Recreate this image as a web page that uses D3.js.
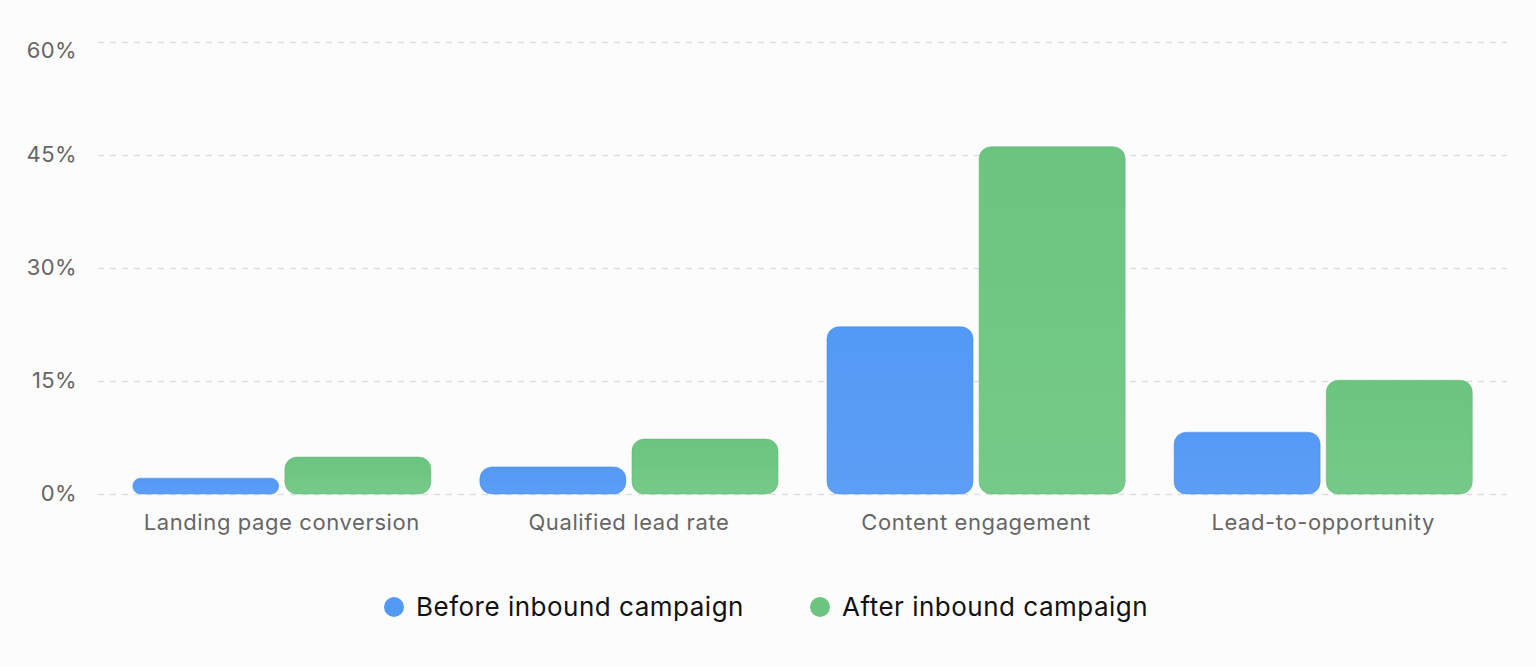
<!DOCTYPE html>
<html>
<head>
<meta charset="utf-8">
<script src="https://cdn.jsdelivr.net/npm/d3@7"></script>
<style>
  html, body { margin: 0; padding: 0; background: #fcfcfc; }
  svg { display: block; font-family: Inter, "Noto Sans", sans-serif; }
</style>
</head>
<body>
<div id="chart"></div>
<script>
// chart data
var categories = ['Landing page conversion', 'Qualified lead rate', 'Content engagement', 'Lead-to-opportunity'];
var seriesNames = ['Before inbound campaign', 'After inbound campaign'];
var beforeValues = [2.1, 3.6, 22.2, 8.2];
var afterValues = [4.9, 7.3, 46.1, 15.1];
var yTicks = [0, 15, 30, 45, 60];

var colors = {
  'Before inbound campaign': ['#5399f6', '#5d9ef6'],
  'After inbound campaign': ['#6bc47f', '#76ca89']
};

var width = 1536, height = 667;
var margin = {top: 42, right: 29, bottom: 173, left: 98};

var svg = d3.select('#chart')
  .append('svg')
  .attr('width', width)
  .attr('height', height);

// gradients, slightly darker at top
var defs = svg.append('defs');
seriesNames.forEach(function(name, i) {
  var g = defs.append('linearGradient')
    .attr('id', 'grad' + i)
    .attr('x1', 0).attr('y1', 0).attr('x2', 0).attr('y2', 1);
  g.append('stop').attr('offset', '0%').attr('stop-color', colors[name][0]);
  g.append('stop').attr('offset', '100%').attr('stop-color', colors[name][1]);
});

var x0 = d3.scaleBand()
  .domain(categories)
  .range([margin.left, width - margin.right])
  .paddingInner(0.141)
  .paddingOuter(0.1);

var x1 = d3.scaleBand()
  .domain(seriesNames)
  .range([0, x0.bandwidth()])
  .paddingInner(0.04);

var y = d3.scaleLinear()
  .domain([0, 60])
  .range([height - margin.bottom, margin.top]);

// grid
svg.append('g')
  .selectAll('line')
  .data(yTicks)
  .enter()
  .append('line')
  .attr('x1', margin.left)
  .attr('x2', width - margin.right)
  .attr('y1', function(d) { return y(d) + 0.5; })
  .attr('y2', function(d) { return y(d) + 0.5; })
  .attr('stroke', '#dedede')
  .attr('stroke-width', 1.5)
  .attr('stroke-dasharray', '6,6');

// y axis labels
var yAxis = d3.axisLeft(y)
  .tickValues(yTicks)
  .tickFormat(function(d) { return d + '%'; })
  .tickSize(0)
  .tickPadding(21);

svg.append('g')
  .attr('transform', 'translate(' + margin.left + ',0)')
  .call(yAxis)
  .call(function(g) { g.select('.domain').remove(); })
  .call(function(g) {
    // keep the top label inside the chart area
    g.selectAll('.tick').attr('transform', function(d) {
      return 'translate(0,' + Math.max(y(d), margin.top + 9) + ')';
    });
  })
  .selectAll('text')
  .attr('fill', '#666')
  .attr('font-size', 22)
  .attr('letter-spacing', 0.4)
  .attr('font-family', 'Inter, "Noto Sans", sans-serif');

// x axis labels
var xAxis = d3.axisBottom(x0).tickSize(0).tickPadding(20);
svg.append('g')
  .attr('transform', 'translate(0,' + y(0) + ')')
  .call(xAxis)
  .call(function(g) { g.select('.domain').remove(); })
  .selectAll('text')
  .attr('fill', '#666')
  .attr('font-size', 22)
  .attr('letter-spacing', 0.6)
  .attr('font-family', 'Inter, "Noto Sans", sans-serif');

// bars
var rows = categories.map(function(c, i) {
  return {cat: c, values: [
    {name: seriesNames[0], idx: 0, val: beforeValues[i]},
    {name: seriesNames[1], idx: 1, val: afterValues[i]}
  ]};
});

var groups = svg.append('g')
  .selectAll('g')
  .data(rows)
  .enter()
  .append('g')
  .attr('transform', function(d) { return 'translate(' + x0(d.cat) + ',0)'; });

groups.selectAll('rect')
  .data(function(d) { return d.values; })
  .enter()
  .append('rect')
  .attr('x', function(d) { return x1(d.name); })
  .attr('width', x1.bandwidth())
  .attr('y', function(d) { return y(d.val); })
  .attr('height', function(d) { return y(0) - y(d.val); })
  .attr('rx', function(d) { return Math.min(12, (y(0) - y(d.val)) / 2); })
  .attr('fill', function(d) { return 'url(#grad' + d.idx + ')'; })
  .attr('stroke', function(d) { return d3.color(colors[d.name][0]).darker(0.2); })
  .attr('stroke-opacity', 0.5)
  .attr('stroke-width', 1);

// legend
var legend = svg.append('g');
var legendPos = [394, 820];
seriesNames.forEach(function(name, i) {
  var item = legend.append('g').attr('transform', 'translate(' + legendPos[i] + ',607)');
  item.append('circle')
    .attr('r', 10)
    .attr('fill', colors[name][0]);
  item.append('text')
    .attr('x', 22)
    .attr('dy', '0.35em')
    .attr('font-size', 26)
    .attr('letter-spacing', 0.5)
    .attr('fill', '#111')
    .text(name);
});
</script>
</body>
</html>
